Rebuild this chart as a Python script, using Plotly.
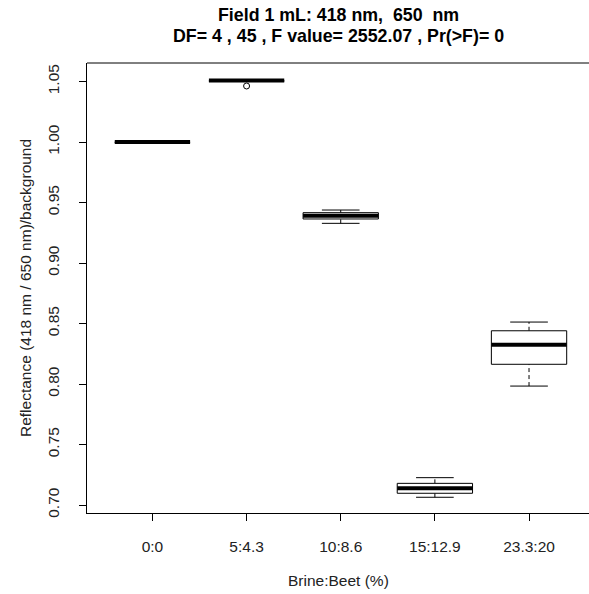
import plotly.graph_objects as go

# Boxplot summary (R style boxplot, 10 obs per group)
groups = ["0:0", "5:4.3", "10:8.6", "15:12.9", "23.3:20"]
lower_whisker = [0.9994, 1.0500, 0.9328, 0.7064, 0.7983]
q1 = [0.9998, 1.0505, 0.9364, 0.7097, 0.8163]
median = [1.0000, 1.0508, 0.9390, 0.7138, 0.8325]
q3 = [1.0002, 1.0511, 0.9416, 0.7179, 0.8440]
upper_whisker = [1.0006, 1.0515, 0.9438, 0.7226, 0.8512]
outlier_group = [2]
outlier_value = [1.0463]
y_ticks = [0.70, 0.75, 0.80, 0.85, 0.90, 0.95, 1.00, 1.05]

pos = list(range(1, len(groups) + 1))
half = 0.4      # box half width
cap = 0.2       # staple half width

box_x, box_y = [], []
med_x, med_y = [], []
wh_x, wh_y = [], []
cap_x, cap_y = [], []
for p, lo, a, m, b, hi in zip(pos, lower_whisker, q1, median, q3, upper_whisker):
    box_x += [p - half, p + half, p + half, p - half, p - half, None]
    box_y += [a, a, b, b, a, None]
    med_x += [p - half, p + half, None]
    med_y += [m, m, None]
    wh_x += [p, p, None, p, p, None]
    wh_y += [lo, a, None, b, hi, None]
    cap_x += [p - cap, p + cap, None, p - cap, p + cap, None]
    cap_y += [lo, lo, None, hi, hi, None]

fig = go.Figure()
fig.add_trace(go.Scatter(x=wh_x, y=wh_y, mode="lines",
                         line=dict(color="black", width=1, dash="4px,3px"), hoverinfo="skip"))
fig.add_trace(go.Scatter(x=cap_x, y=cap_y, mode="lines",
                         line=dict(color="black", width=1), hoverinfo="skip"))
fig.add_trace(go.Scatter(x=box_x, y=box_y, mode="lines", fill="toself", fillcolor="white",
                         line=dict(color="black", width=1), hoverinfo="skip"))
fig.add_trace(go.Scatter(x=med_x, y=med_y, mode="lines",
                         line=dict(color="black", width=4), hoverinfo="skip"))
fig.add_trace(go.Scatter(x=outlier_group, y=outlier_value, mode="markers",
                         marker=dict(symbol="circle-open", size=6, color="black",
                                     line=dict(width=1, color="black"))))

font = "Liberation Sans, Arial, sans-serif"
title_font = dict(size=17.8, color="black")
fig.update_layout(
    width=589, height=594,
    margin=dict(l=87, r=0, t=63, b=81),
    plot_bgcolor="white", paper_bgcolor="white",
    showlegend=False,
    font=dict(family=font, size=15.5, color="#222"),
    xaxis=dict(range=[0.305, 5.637], tickvals=pos, ticktext=groups, automargin=False,
               showgrid=False, zeroline=False, showline=True, linecolor="black", linewidth=1,
               ticks="outside", ticklen=7, tickcolor="black", ticklabelstandoff=12),
    yaxis=dict(range=[0.6934, 1.0653], tickvals=y_ticks, tickformat=".2f", tickangle=-90,
               automargin=False,
               showgrid=False, zeroline=False, showline=True, linecolor="black", linewidth=1,
               ticks="outside", ticklen=7, tickcolor="black", ticklabelstandoff=14),
    shapes=[dict(type="line", xref="paper", yref="paper", x0=0, x1=1, y0=1, y1=1,
                 line=dict(color="black", width=1))],
    annotations=[
        dict(text="<b>Field 1 mL: 418 nm,  650  nm</b>",
             xref="paper", yref="paper", x=0.5, y=1, yshift=48, yanchor="middle",
             showarrow=False, font=title_font),
        dict(text="<b>DF= 4 , 45 , F value= 2552.07 , Pr(>F)= 0</b>",
             xref="paper", yref="paper", x=0.5, y=1, yshift=27, yanchor="middle",
             showarrow=False, font=title_font),
        dict(text="Brine:Beet (%)", xref="paper", yref="paper", x=0.5, y=0, yshift=-67,
             yanchor="middle", showarrow=False),
        dict(text="Reflectance (418 nm / 650 nm)/background", xref="paper", yref="paper",
             x=0, y=0.5, xshift=-62, xanchor="center", textangle=-90, showarrow=False),
    ],
)

# drop the default page margin so the figure sits at the window origin
fig.write_html("out.html", config={"displayModeBar": False},
               post_script="document.body.style.margin='0';")
